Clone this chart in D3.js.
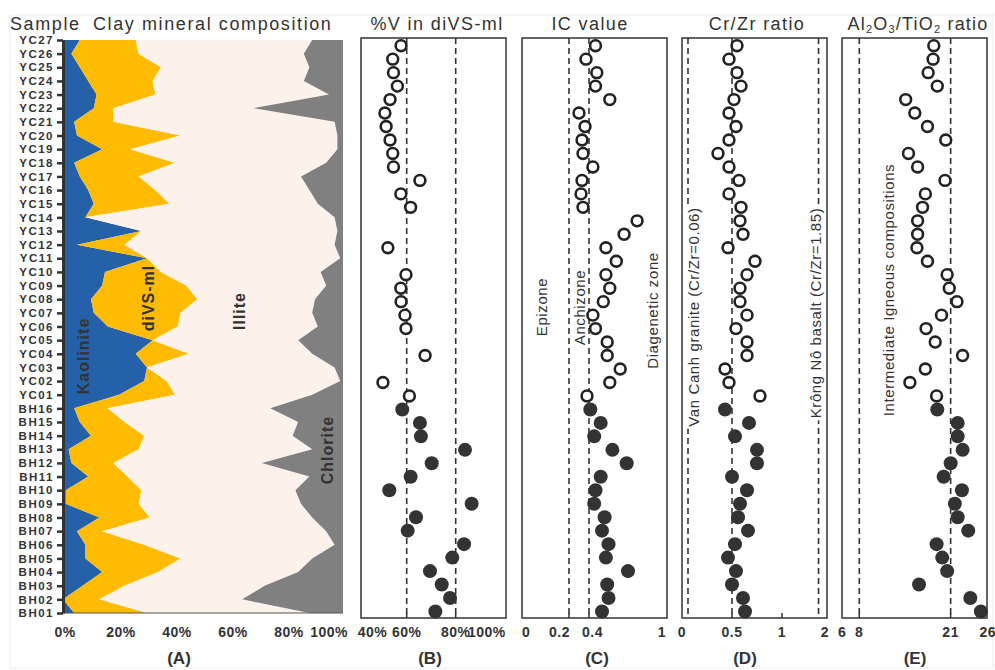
<!DOCTYPE html>
<html>
<head>
<meta charset="utf-8">
<script src="https://cdn.jsdelivr.net/npm/d3@7"></script>
<style>
body { margin: 0; background: #fff; }
text { font-family: "Liberation Sans", Arial, sans-serif; fill: #333; }
</style>
</head>
<body>
<div id="chart"></div>
<script>
// samples, top to bottom
var samples = ["YC27","YC26","YC25","YC24","YC23","YC22","YC21","YC20","YC19","YC18","YC17","YC16","YC15","YC14",
  "YC13","YC12","YC11","YC10","YC09","YC08","YC07","YC06","YC05","YC04","YC03","YC02","YC01",
  "BH16","BH15","BH14","BH13","BH12","BH11","BH10","BH09","BH08","BH07","BH06","BH05","BH04","BH03","BH02","BH01"];

// clay mineral composition (%)
var kaolinite = [6,3,6,9,12,11,4,5,14,4,6,9,11,8,28,5,30,15,14,10,11,16,32,26,30,29,20,
  4,6,10,2,3,9,1,1,13,5,8,8,14,7,0,4];
var diVSml = [20,24,29,23,21,7,14,37,10,36,21,24,27,0,0,17,0,20,30,38,31,25,0,19,0,8,20,
  12,16,19,25,15,14,27,26,18,9,21,34,20,15,13,26];
var illite = [63,59,53,54,62,50,79,56,74,54,58,55,53,89,70,75,69,57,50,42,47,50,52,44,67,62,49,
  58,62,53,62,53,65,55,58,58,80,68,47,50,50,51,58];
var chlorite = [11,14,12,14,5,32,3,2,2,6,15,12,9,3,2,3,1,8,6,10,11,9,16,11,3,1,11,
  26,16,18,11,29,12,17,15,11,6,3,11,16,28,36,12];

// %V in diVS-ml (null = no diVS-ml)
var vInDiVS = [57.7,54.3,54.6,56.2,53.2,51.1,51.6,53.2,54.3,54.6,65.4,57.6,61.6,null,null,52.3,null,59.7,57.6,57.7,59.3,59.7,null,67.5,null,50.3,61.1,
  58.2,65.4,65.8,83.8,70.2,61.6,52.9,86.5,63.8,60.4,83.4,78.6,69.5,74.3,77.7,71.7];
// illite crystallinity
var icValue = [0.45,0.37,0.46,0.45,0.56,0.30,0.36,0.33,0.34,0.43,0.33,0.32,0.34,0.77,0.67,0.53,0.61,0.53,0.56,0.51,0.43,0.45,0.54,0.54,0.64,0.56,0.38,
  0.41,0.49,0.44,0.58,0.69,0.49,0.45,0.44,0.52,0.50,0.55,0.53,0.70,0.54,0.55,0.50];
var crZr = [0.55,0.47,0.55,0.59,0.52,0.47,0.54,0.47,0.36,0.47,0.57,0.47,0.59,0.58,0.61,0.46,0.73,0.65,0.58,0.58,0.65,0.54,0.65,0.65,0.43,0.47,0.78,
  0.43,0.67,0.53,0.75,0.75,0.50,0.65,0.58,0.56,0.66,0.53,0.46,0.54,0.50,0.61,0.63];
var alTi = [18.6,18.5,17.8,19.1,14.6,15.9,17.7,20.3,15.0,16.3,20.2,17.4,17.0,16.3,16.3,16.2,17.7,20.5,20.8,21.9,19.7,17.5,18.8,22.7,17.4,15.2,19.0,
  19.1,22.0,22.0,22.7,21.0,20.0,22.6,21.6,22.0,23.5,19.0,19.8,20.5,16.5,23.8,25.3];

// tick values and reference lines
var pctTicks = [0,20,40,60,80,100];
var vTicks = [40,60,80,100];
var icTicks = [0,0.2,0.4,1];
var crTicks = [0,0.5,1,2];
var alTicks = [6,8,21,26];
var vRefs = [60,80];
var icRefs = [0.2,0.4];
var crRefs = [0.06,0.5,1.85];
var alRefs = [8,21];

var minerals = ["Kaolinite","diVS-ml","Illite","Chlorite"];
var mineralColors = ["#2561a9","#ffbb00","#fdf1ec","#808080"];

var svg = d3.select("#chart").append("svg")
  .attr("width", 995)
  .attr("height", 670);

// faint outer frame
svg.append("rect").attr("x",10).attr("y",15).attr("width",983).attr("height",653)
  .style("fill","none").style("stroke","#eeeeee");

var boxTop = 38, boxBottom = 618;

/* ---------- panel A : stacked composition ---------- */
var xA = d3.scaleLinear().domain([0,100]).range([63,343]);
var yA = d3.scalePoint().domain(samples).range([40,613]);

var table = samples.map(function(s,i){
  return {sample:s, "Kaolinite":kaolinite[i], "diVS-ml":diVSml[i], "Illite":illite[i], "Chlorite":chlorite[i]};
});
var stacked = d3.stack().keys(minerals)(table);

var area = d3.area()
  .y(function(d){ return yA(d.data.sample); })
  .x0(function(d){ return xA(d[0]); })
  .x1(function(d){ return xA(d[1]); });

svg.append("g").selectAll("path")
  .data(stacked).enter().append("path")
  .attr("d", area)
  .style("fill", function(d,i){ return mineralColors[i]; })
  .style("stroke", "none");

svg.append("line").attr("x1",xA(0)).attr("x2",xA(100)).attr("y1",yA("BH01")).attr("y2",yA("BH01"))
  .style("stroke","#555").style("stroke-width",1);

var axA = svg.append("g")
  .attr("transform","translate(" + xA(0) + ",0)")
  .call(d3.axisLeft(yA).tickSize(6).tickSizeOuter(0).tickPadding(3));
axA.select(".domain").style("stroke","#333").style("stroke-width",3);
axA.selectAll(".tick line").style("stroke","#333").style("stroke-width",2.5);
axA.selectAll(".tick text")
  .style("font-family","'Liberation Sans', Arial, sans-serif")
  .style("font-size","11.5px").style("font-weight","bold")
  .style("letter-spacing","1.5px").style("fill","#333");

svg.append("g").selectAll("text")
  .data(pctTicks).enter().append("text")
  .attr("x", function(d){ return xA(d) + (d==100 ? 5 : 2); })
  .attr("y", 637)
  .attr("text-anchor", function(d){ return d==100 ? "end" : "middle"; })
  .style("font-size","14px").style("font-weight","bold").style("letter-spacing","0.5px")
  .text(function(d){ return d + "%"; });

// mineral names on the areas
var mineralLabels = [
  {t:"Kaolinite", x:83, y:356},
  {t:"diVS-ml", x:148, y:298},
  {t:"Illite", x:239, y:311},
  {t:"Chlorite", x:327, y:450}
];
svg.append("g").selectAll("text")
  .data(mineralLabels).enter().append("text")
  .attr("transform", function(d){ return "translate(" + d.x + "," + d.y + ") rotate(-90)"; })
  .attr("text-anchor","middle").attr("dy","0.36em")
  .style("font-size","16px").style("font-weight","bold").style("letter-spacing","1px")
  .text(function(d){ return d.t; });

svg.append("text").attr("x",10).attr("y",30)
  .style("font-size","18px").style("letter-spacing","1.6px").text("Sample");
svg.append("text").attr("x",93).attr("y",30)
  .style("font-size","18px").style("letter-spacing","1.6px").text("Clay mineral composition");
svg.append("text").attr("x",179).attr("y",664).attr("text-anchor","middle")
  .style("font-size","17px").style("font-weight","bold").text("(A)");

/* ---------- panels B - E : scatter columns ---------- */
var yP = d3.scalePoint().domain(samples).range([45.7,611.5]);

var panels = [
  {tag:"(B)", tagX:430, title:"%V in diVS-ml", titleX:437, values:vInDiVS,
   x:d3.scaleLinear().domain([40,100]).range([357.7,504.7]), left:361, right:506,
   ticks:vTicks, refs:vRefs, fmt:function(d){ return d + "%"; },
   anchor:["start","middle","middle","end"], dx:[0,0,0,1], notes:[]},
  {tag:"(C)", tagX:597, title:"IC value", titleX:590, values:icValue,
   x:d3.scaleLinear().domain([0,0.2,0.4,1]).range([522,569,589,667]), left:522, right:667,
   ticks:icTicks, refs:icRefs, fmt:function(d){ return String(d); },
   anchor:["start","end","start","end"], dx:[0,1,-7,-1],
   notes:[{t:"Epizone", x:542, y:307}, {t:"Anchizone", x:579.5, y:307.5}, {t:"Diagenetic zone", x:653, y:310.5}]},
  {tag:"(D)", tagX:745, title:"Cr/Zr ratio", titleX:757, values:crZr,
   x:d3.scaleLinear().domain([0,1,2]).range([682,782,825]), left:682, right:827,
   ticks:crTicks, refs:crRefs, fmt:function(d){ return String(d); },
   anchor:["middle","middle","middle","middle"], dx:[0,0,0,0],
   notes:[{t:"Van Canh granite (Cr/Zr=0.06)", x:694, y:317, bg:true}, {t:"Kr\u00f4ng N\u00f4 basalt (Cr/Zr=1.85)", x:816, y:313, bg:true}]},
  {tag:"(E)", tagX:915, title:null, titleX:918, values:alTi,
   x:d3.scaleLinear().domain([5.5,26]).range([841.7,985.8]), left:842, right:987,
   ticks:alTicks, refs:alRefs, fmt:function(d){ return String(d); },
   anchor:["middle","middle","middle","middle"], dx:[-3,0,0,2],
   notes:[{t:"Intermediate Igneous compositions", x:889, y:290}]}
];

panels.forEach(function(p){
  var g = svg.append("g");

  // dashed reference lines
  g.selectAll(".ref").data(p.refs).enter().append("line")
    .attr("x1", function(d){ return p.x(d); }).attr("x2", function(d){ return p.x(d); })
    .attr("y1", boxTop).attr("y2", boxBottom)
    .style("stroke","#333").style("stroke-width",1.6).style("stroke-dasharray","6,4");

  // rotated notes
  p.notes.forEach(function(n){
    var ng = g.append("g").attr("transform","translate(" + n.x + "," + n.y + ") rotate(-90)");
    var t = ng.append("text").attr("text-anchor","middle").attr("dy","0.36em")
      .style("font-size","15px").style("letter-spacing","0.6px").text(n.t);
    if (n.bg) {
      var b = t.node().getBBox();
      ng.insert("rect","text").attr("x",b.x - 2).attr("y",b.y).attr("width",b.width + 4).attr("height",b.height)
        .style("fill","#fff");
    }
  });

  // points
  var pts = samples.map(function(s,i){ return {s:s, v:p.values[i]}; })
    .filter(function(d){ return d.v != null; });
  g.selectAll(".pt").data(pts).enter().append("circle")
    .attr("cx", function(d){ return p.x(d.v); })
    .attr("cy", function(d){ return yP(d.s); })
    .attr("r", function(d){ return d.s.slice(0,2) == "YC" ? 5.4 : 7; })
    .style("fill", function(d){ return d.s.slice(0,2) == "YC" ? "#fff" : "#333"; })
    .style("stroke", function(d){ return d.s.slice(0,2) == "YC" ? "#222" : "none"; })
    .style("stroke-width", 2.6);

  // frame
  g.append("rect").attr("x",p.left).attr("y",boxTop).attr("width",p.right - p.left).attr("height",boxBottom - boxTop)
    .style("fill","none").style("stroke","#333").style("stroke-width",1.5);

  // small inner ticks
  g.selectAll(".tk").data(p.ticks.slice(1,-1)).enter().append("line")
    .attr("x1", function(d){ return p.x(d); }).attr("x2", function(d){ return p.x(d); })
    .attr("y1", boxBottom).attr("y2", boxBottom - 5)
    .style("stroke","#333").style("stroke-width",1.5);

  // tick labels
  g.selectAll(".tl").data(p.ticks).enter().append("text")
    .attr("x", function(d,i){ return p.x(d) + p.dx[i]; })
    .attr("y", 637)
    .attr("text-anchor", function(d,i){ return p.anchor[i]; })
    .style("font-size","14px").style("font-weight","bold").style("letter-spacing","0.5px")
    .text(p.fmt);

  // title
  if (p.title) {
    g.append("text").attr("x",p.titleX).attr("y",30).attr("text-anchor","middle")
      .style("font-size","18px").style("letter-spacing","1.4px").text(p.title);
  } else {
    var tt = g.append("text").attr("x",p.titleX).attr("y",30).attr("text-anchor","middle")
      .style("font-size","18px").style("letter-spacing","1.2px");
    tt.append("tspan").text("Al");
    tt.append("tspan").attr("dy",3).style("font-size","11px").text("2");
    tt.append("tspan").attr("dy",-3).text("O");
    tt.append("tspan").attr("dy",3).style("font-size","11px").text("3");
    tt.append("tspan").attr("dy",-3).text("/TiO");
    tt.append("tspan").attr("dy",3).style("font-size","11px").text("2");
    tt.append("tspan").attr("dy",-3).text(" ratio");
  }

  g.append("text").attr("x",p.tagX).attr("y",664).attr("text-anchor","middle")
    .style("font-size","17px").style("font-weight","bold").text(p.tag);
});
</script>
</body>
</html>
